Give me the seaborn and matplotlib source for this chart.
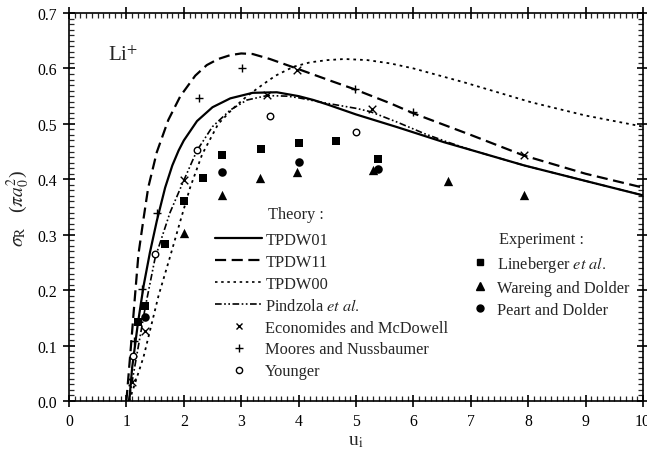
import numpy as np
import pandas as pd
import matplotlib
matplotlib.use("Agg")
import matplotlib.pyplot as plt
from matplotlib.lines import Line2D
from matplotlib.ticker import MultipleLocator
import seaborn as sns

# ---------------- data ----------------
tpdw01_x = [1.05, 1.1, 1.2, 1.3, 1.41, 1.53, 1.675, 1.8, 1.91, 2.0, 2.23, 2.5, 2.81, 3.2, 3.62, 4.0, 4.26, 4.5, 5.0, 5.72, 6.53, 7.0, 7.93, 9.0, 10.0]
tpdw01_y = [0.0, 0.06, 0.14, 0.208, 0.268, 0.325, 0.385, 0.425, 0.452, 0.47, 0.505, 0.53, 0.546, 0.556, 0.557, 0.55, 0.543, 0.535, 0.517, 0.494, 0.467, 0.453, 0.425, 0.397, 0.371]

tpdw11_x = [1.0, 1.08, 1.15, 1.21, 1.30, 1.38, 1.53, 1.73, 1.94, 2.2, 2.4, 2.6, 2.81, 3.0, 3.2, 3.5, 3.91, 4.55, 4.96, 5.6, 6.0, 7.0, 7.92, 9.0, 10.0]
tpdw11_y = [0.0, 0.10, 0.19, 0.265, 0.33, 0.385, 0.449, 0.507, 0.55, 0.587, 0.606, 0.617, 0.624, 0.627, 0.626, 0.617, 0.602, 0.578, 0.563, 0.537, 0.519, 0.48, 0.443, 0.41, 0.385]

tpdw00_x = [1.05, 1.3, 1.56, 1.76, 1.94, 2.11, 2.32, 2.6, 2.85, 3.1, 3.39, 3.6, 3.91, 4.2, 4.5, 4.8, 5.2, 5.6, 6.0, 6.88, 8.05, 9.0, 10.0]
tpdw00_y = [0.0, 0.08, 0.19, 0.26, 0.325, 0.385, 0.445, 0.5, 0.527, 0.55, 0.572, 0.587, 0.603, 0.611, 0.615, 0.617, 0.615, 0.609, 0.6, 0.575, 0.539, 0.515, 0.495]

pindzola_x = [1.04, 1.33, 1.5, 1.76, 2.0, 2.23, 2.5, 2.81, 3.1, 3.45, 3.8, 4.0, 4.5, 5.0, 5.25, 5.72, 6.2, 6.6, 7.0, 7.93, 9.0, 10.0]
pindzola_y = [0.0, 0.17, 0.258, 0.34, 0.398, 0.452, 0.495, 0.525, 0.543, 0.551, 0.55, 0.547, 0.537, 0.528, 0.522, 0.503, 0.482, 0.467, 0.453, 0.425, 0.397, 0.371]

econ_x = [1.09, 1.33, 2.0, 3.45, 3.97, 5.28, 7.93]
econ_y = [0.034, 0.127, 0.398, 0.552, 0.598, 0.526, 0.444]

moores_x = [1.13, 1.27, 1.53, 2.26, 3.01, 4.99, 6.0]
moores_y = [0.109, 0.202, 0.34, 0.546, 0.600, 0.562, 0.521]

younger_x = [1.12, 1.5, 2.23, 3.51, 5.0]
younger_y = [0.082, 0.265, 0.452, 0.515, 0.485]

lineb_x = [1.2, 1.33, 1.675, 2.0, 2.33, 2.66, 3.35, 4.0, 4.65, 5.39]
lineb_y = [0.143, 0.171, 0.283, 0.361, 0.403, 0.443, 0.455, 0.465, 0.469, 0.437]

wareing_x = [2.0, 2.66, 3.32, 3.97, 5.3, 6.61, 7.93]
wareing_y = [0.303, 0.371, 0.403, 0.413, 0.417, 0.397, 0.372]

peart_x = [1.33, 2.66, 4.0, 5.39]
peart_y = [0.151, 0.413, 0.432, 0.418]

x_ticks = [0, 1, 2, 3, 4, 5, 6, 7, 8, 9, 10]
y_ticks = [0.0, 0.1, 0.2, 0.3, 0.4, 0.5, 0.6, 0.7]

# ---------------- style ----------------
sns.set_style("ticks")
plt.rcParams["font.family"] = ["Liberation Serif", "DejaVu Serif"]
plt.rcParams["mathtext.fontset"] = "stix"

fig = plt.figure(figsize=(6.47, 4.52), dpi=100)
ax = fig.add_axes([69 / 647, 50 / 452, 574 / 647, 388 / 452])

k = "black"
DASH11 = [5, 2.5]
DOT00 = [1.5, 2.2]
DDOT = [4, 1.5, 1, 1.5, 1, 1.5]

def curve(xs, ys, lw, dashes=None):
    sns.lineplot(x=xs, y=ys, ax=ax, color=k, lw=lw, sort=False)
    ln = ax.lines[-1]
    ln.set_solid_joinstyle("round")
    ln.set_dash_joinstyle("round")
    if dashes is not None:
        ln.set_dashes(dashes)

curve(tpdw01_x, tpdw01_y, 1.6)
curve(tpdw11_x, tpdw11_y, 1.6, DASH11)
curve(tpdw00_x, tpdw00_y, 1.3, DOT00)
curve(pindzola_x, pindzola_y, 1.2, DDOT)

sns.scatterplot(x=econ_x, y=econ_y, ax=ax, marker="x", color=k, s=30, linewidth=1.0, zorder=5)
sns.scatterplot(x=moores_x, y=moores_y, ax=ax, marker="+", color=k, s=35, linewidth=1.0, zorder=5)
sns.scatterplot(x=younger_x, y=younger_y, ax=ax, marker="o", facecolor="white", edgecolor=k, s=22, linewidth=1.0, zorder=5)
sns.scatterplot(x=lineb_x, y=lineb_y, ax=ax, marker="s", color=k, s=38, linewidth=0, zorder=5)
sns.scatterplot(x=wareing_x, y=wareing_y, ax=ax, marker="^", color=k, s=45, linewidth=0, zorder=5)
sns.scatterplot(x=peart_x, y=peart_y, ax=ax, marker="o", color=k, s=38, linewidth=0, zorder=5)

ax.set_xlim(0, 10)
ax.set_ylim(0, 0.7)
ax.set_xticks(x_ticks)
ax.set_yticks(y_ticks)
ax.set_xticklabels([str(v) for v in x_ticks], fontsize=11.3)
ax.set_yticklabels([f"{v:.1f}" for v in y_ticks], fontsize=11.3)
ax.xaxis.set_minor_locator(MultipleLocator(0.1))
ax.yaxis.set_minor_locator(MultipleLocator(0.01))
ax.tick_params(which="major", direction="inout", length=9, width=1.2, top=True, right=True, pad=4, colors=k)
ax.tick_params(which="minor", direction="in", length=3.5, width=0.9, top=True, right=True)
for s in ax.spines.values():
    s.set_linewidth(1.2)
    s.set_color(k)
    s.set_visible(True)

ax.set_xlabel(r"u$_{\rm i}$", fontsize=14, labelpad=2)
ax.set_ylabel(r"$\sigma_{\rm R}$   ($\pi a_0^2$)", fontsize=14, labelpad=4)

ax.text(0.68, 0.623, r"Li$^{+}$", fontsize=15, ha="left", va="center")

# ---------------- legends ----------------
FS = 11.8
theory_handles = [
    Line2D([], [], color=k, lw=1.6, linestyle="-"),
    Line2D([], [], color=k, lw=1.6, dashes=DASH11),
    Line2D([], [], color=k, lw=1.2, dashes=DOT00),
    Line2D([], [], color=k, lw=1.2, dashes=DDOT),
    Line2D([], [], color=k, marker="x", linestyle="none", markersize=5, mew=1.0),
    Line2D([], [], color=k, marker="+", linestyle="none", markersize=5.5, mew=1.0),
    Line2D([], [], color=k, marker="o", mfc="white", linestyle="none", markersize=4.5, mew=1.0),
]
theory_labels = ["TPDW01", "TPDW11", "TPDW00", "Pindzola $\\it{et\\ al.}$",
                 "Economides and McDowell", "Moores and Nussbaumer", "Younger"]
leg1 = ax.legend(theory_handles, theory_labels, loc="upper left",
                 bbox_to_anchor=((215 - 69) / 574, (402 - 233) / 388),
                 frameon=False, fontsize=FS, handlelength=2.87, handletextpad=0.2,
                 labelspacing=0.36, borderpad=0, borderaxespad=0)
ax.add_artist(leg1)

exp_handles = [
    Line2D([], [], color=k, marker="s", linestyle="none", markersize=5),
    Line2D([], [], color=k, marker="^", linestyle="none", markersize=5.5),
    Line2D([], [], color=k, marker="o", linestyle="none", markersize=5),
]
exp_labels = ["Lineberger $\\it{et\\ al.}$", "Wareing and Dolder", "Peart and Dolder"]
ax.legend(exp_handles, exp_labels, loc="upper left",
          bbox_to_anchor=((472 - 69) / 574, (402 - 255) / 388),
          frameon=False, fontsize=FS, handlelength=1.0, handletextpad=0.55,
          labelspacing=0.36, borderpad=0, borderaxespad=0)

ax.text(3.47, 0.3375, "Theory :", fontsize=FS, ha="left", va="center")
ax.text(7.50, 0.2924, "Experiment :", fontsize=FS, ha="left", va="center")

fig.savefig("out.png", dpi=100)
